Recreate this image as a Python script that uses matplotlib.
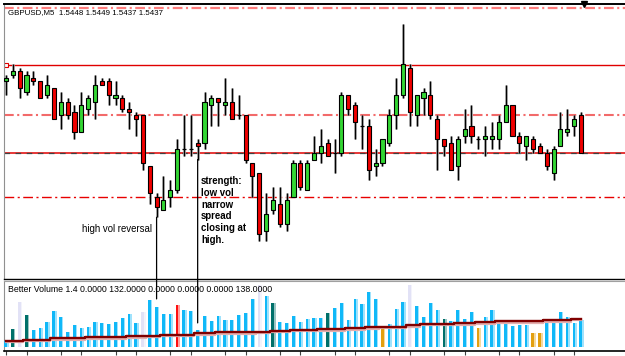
import matplotlib
matplotlib.use("Agg")
import matplotlib.pyplot as plt
import matplotlib.patheffects as pe
from matplotlib.patches import ConnectionPatch
import numpy as np

plt.rcParams['font.family'] = ['Liberation Sans', 'DejaVu Sans']
plt.rcParams['lines.scale_dashes'] = False

symbol = "GBPUSD,M5"

opens = [1.5458, 1.5460, 1.5461, 1.5455, 1.5459, 1.5458, 1.5454, 1.5456, 1.5448, 1.5452,
         1.5449, 1.5443, 1.5450, 1.5452, 1.5458, 1.5458, 1.5453, 1.5453, 1.5450, 1.5448,
         1.5448, 1.5433, 1.5424, 1.5420, 1.5424, 1.5426, 1.5438, 1.5438, 1.5440, 1.5440,
         1.5451, 1.5453, 1.5451, 1.5452, 1.5448, 1.5448, 1.5434, 1.5431, 1.5414, 1.5420,
         1.5422, 1.5416, 1.5424, 1.5434, 1.5426, 1.5435, 1.5437, 1.5440, 1.5437, 1.5437,
         1.5454, 1.5451, 1.5445, 1.5445, 1.5433, 1.5434, 1.5440, 1.5448, 1.5454, 1.5462,
         1.5448, 1.5453, 1.5454, 1.5447, 1.5441, 1.5440, 1.5433, 1.5442, 1.5445, 1.5441,
         1.5441, 1.5441, 1.5441, 1.5446, 1.5451, 1.5442, 1.5439, 1.5441, 1.5439, 1.5437,
         1.5431, 1.5439, 1.5443, 1.5445, 1.5448]
highs = [1.5460, 1.5463, 1.5462, 1.5461, 1.5461, 1.5458, 1.5460, 1.5456, 1.5455, 1.5453,
         1.5451, 1.5455, 1.5454, 1.5460, 1.5459, 1.5459, 1.5458, 1.5454, 1.5452, 1.5449,
         1.5448, 1.5433, 1.5425, 1.5430, 1.5429, 1.5441, 1.5448, 1.5448, 1.5441, 1.5455,
         1.5454, 1.5453, 1.5459, 1.5456, 1.5454, 1.5448, 1.5434, 1.5431, 1.5425, 1.5427,
         1.5427, 1.5425, 1.5435, 1.5435, 1.5435, 1.5442, 1.5444, 1.5441, 1.5441, 1.5455,
         1.5454, 1.5452, 1.5448, 1.5447, 1.5438, 1.5441, 1.5450, 1.5459, 1.5475, 1.5463,
         1.5454, 1.5456, 1.5458, 1.5448, 1.5441, 1.5442, 1.5442, 1.5450, 1.5451, 1.5442,
         1.5445, 1.5446, 1.5448, 1.5457, 1.5451, 1.5443, 1.5442, 1.5442, 1.5440, 1.5438,
         1.5439, 1.5449, 1.5450, 1.5448, 1.5449]
lows = [1.5454, 1.5459, 1.5453, 1.5454, 1.5457, 1.5453, 1.5453, 1.5447, 1.5444, 1.5447,
        1.5441, 1.5443, 1.5448, 1.5447, 1.5457, 1.5451, 1.5451, 1.5449, 1.5444, 1.5442,
        1.5432, 1.5422, 1.5418, 1.5420, 1.5421, 1.5425, 1.5436, 1.5436, 1.5435, 1.5438,
        1.5445, 1.5445, 1.5448, 1.5447, 1.5447, 1.5434, 1.5424, 1.5411, 1.5411, 1.5419,
        1.5415, 1.5414, 1.5424, 1.5426, 1.5426, 1.5435, 1.5434, 1.5436, 1.5431, 1.5436,
        1.5448, 1.5441, 1.5438, 1.5429, 1.5430, 1.5433, 1.5439, 1.5444, 1.5453, 1.5445,
        1.5445, 1.5448, 1.5447, 1.5432, 1.5436, 1.5432, 1.5429, 1.5440, 1.5440, 1.5438,
        1.5436, 1.5438, 1.5438, 1.5446, 1.5442, 1.5437, 1.5435, 1.5437, 1.5437, 1.5432,
        1.5429, 1.5439, 1.5442, 1.5442, 1.5437]
closes = [1.5459, 1.5461, 1.5456, 1.5460, 1.5458, 1.5453, 1.5457, 1.5447, 1.5452, 1.5448,
          1.5443, 1.5451, 1.5453, 1.5457, 1.5457, 1.5454, 1.5454, 1.5450, 1.5449, 1.5447,
          1.5434, 1.5425, 1.5421, 1.5423, 1.5426, 1.5438, 1.5438, 1.5438, 1.5439, 1.5452,
          1.5453, 1.5452, 1.5452, 1.5447, 1.5448, 1.5435, 1.5430, 1.5413, 1.5419, 1.5423,
          1.5416, 1.5423, 1.5434, 1.5427, 1.5434, 1.5437, 1.5439, 1.5436, 1.5437, 1.5454,
          1.5450, 1.5446, 1.5445, 1.5432, 1.5434, 1.5441, 1.5448, 1.5454, 1.5463, 1.5449,
          1.5454, 1.5455, 1.5448, 1.5441, 1.5439, 1.5432, 1.5441, 1.5444, 1.5442, 1.5441,
          1.5442, 1.5442, 1.5446, 1.5451, 1.5442, 1.5440, 1.5442, 1.5438, 1.5437, 1.5433,
          1.5438, 1.5444, 1.5444, 1.5447, 1.5437]

volumes = [30, 87, 220, 156, 84, 93, 124, 176, 145, 75,
           108, 92, 100, 124, 116, 113, 124, 143, 160, 119,
           171, 229, 196, 162, 162, 205, 179, 174, 84, 153,
           127, 153, 132, 132, 156, 166, 232, 301, 248, 214,
           124, 116, 153, 124, 137, 140, 140, 166, 191, 214,
           132, 235, 211, 266, 235, 97, 114, 185, 219, 301,
           200, 145, 214, 180, 137, 126, 179, 137, 171, 93,
           148, 179, 116, 114, 103, 108, 108, 71, 71, 124,
           119, 171, 148, 116, 132]
volume_ma = [32, 32, 32, 37, 37, 37, 37, 44, 44, 44,
             44, 44, 48, 48, 48, 48, 48, 48, 53, 53,
             53, 56, 56, 61, 61, 61, 61, 61, 68, 68,
             68, 73, 73, 73, 73, 73, 73, 75, 75, 80,
             80, 80, 85, 85, 85, 85, 88, 88, 88, 88,
             93, 93, 93, 97, 97, 100, 100, 100, 100, 106,
             106, 113, 113, 113, 113, 113, 117, 117, 117, 122,
             122, 122, 126, 126, 126, 126, 126, 126, 126, 131,
             131, 131, 131, 138, 138]
# Better Volume bar classes (0-based bar indices)
churn_bars = [1, 3, 39, 47, 64]          # dark teal
climax_low_bars = [2, 20, 37, 59]        # lavender
climax_high_bars = [25]                  # red
low_volume_bars = [55, 69, 77, 78]       # orange

levels_dashdot_light = [1.54795, 1.54481]
level_solid = 1.54627
level_close = 1.5437
level_dashdot = 1.54239

tick_bars = [0, 3, 8, 11, 16, 19, 24, 27, 32, 35, 40, 43, 48, 51, 56, 59,
             64, 67, 72, 75, 80, 83]

annot_reversal_bar = 22
annot_strength_bar = 28
text_reversal = "high vol reversal"
text_strength = "strength:\nlow vol\nnarrow\nspread\nclosing at\nhigh."

W, H = 625, 356
fig = plt.figure(figsize=(W / 100, H / 100), dpi=100)
fig.patch.set_facecolor('white')

def fx(px):
    return px / W

def fy(py):
    return 1 - py / H

ax = fig.add_axes([fx(4), fy(279), fx(625) - fx(4), fy(4) - fy(279)])
axv = fig.add_axes([fx(4), fy(351), fx(625) - fx(4), fy(281) - fy(351)])

step = 6.845
x0 = -(6 - 4) / step
x1 = x0 + 621 / step
for a in (ax, axv):
    a.set_xlim(x0, x1)
    a.set_facecolor('white')
    a.spines['right'].set_visible(False)
    a.spines['left'].set_color('#909090')
    a.set_yticks([])
ax.set_ylim(1.539985, 1.548074)
axv.set_ylim(-17.9, 320.6)
ax.set_xticks([])
ax.spines['top'].set_color('black')
ax.spines['top'].set_linewidth(1.4)
ax.spines['bottom'].set_color('black')
ax.spines['bottom'].set_linewidth(1.0)
axv.spines['top'].set_color('#a0a0a0')
axv.spines['bottom'].set_color('black')
axv.spines['bottom'].set_linewidth(1.2)
axv.set_xticks(tick_bars)
axv.tick_params(axis='x', direction='out', length=3, width=0.8, color='#404040',
                labelbottom=False)

o = np.array(opens); h = np.array(highs); l = np.array(lows); c = np.array(closes)
x = np.arange(len(o))

# horizontal levels
dashdot = (0, (7, 2.5, 1.5, 2.5))
ax.axhline(levels_dashdot_light[0], color='#FF7B7B', lw=1.6, ls=dashdot, zorder=1)
ax.axhline(levels_dashdot_light[1], color='#F26a6a', lw=1.5, ls=dashdot, zorder=1)
ax.axhline(level_solid, color='#E00000', lw=1.0, zorder=1)
ax.plot([x[0]], [level_solid], marker='s', ms=3.2, mfc='white', mec='#E00000', mew=0.8,
        zorder=2)
ax.axhline(level_close, color='#E00000', lw=1.1, zorder=1)
ax.axhline(level_close, color='#404040', lw=0.9, ls=(0, (4, 4)), zorder=1)
ax.axhline(level_dashdot, color='#E80000', lw=1.0, ls=dashdot, zorder=1)

# candles
shadow = [pe.Stroke(linewidth=1.9, foreground='#a8a8a8'), pe.Normal()]
ax.vlines(x, l, h, color='black', lw=0.9, zorder=3, path_effects=shadow)
bw = 0.6
up = c > o
dn = c < o
eq = c == o
ax.bar(x[up], (c - o)[up], bottom=o[up], width=bw, color='#33D633', edgecolor='black',
       lw=0.8, zorder=4)
ax.bar(x[dn], (c - o)[dn], bottom=o[dn], width=bw, color='#F00000', edgecolor='black',
       lw=0.8, zorder=4)
ax.hlines(o[eq], x[eq] - bw / 2, x[eq] + bw / 2, color='black', lw=0.9, zorder=4)

# volume bars
cols = ['#10B8F8'] * len(volumes)
for i in churn_bars:
    cols[i] = '#00706A'
for i in climax_low_bars:
    cols[i] = '#E2E2F6'
for i in climax_high_bars:
    cols[i] = '#FF1010'
for i in low_volume_bars:
    cols[i] = '#E3A010'
v = np.array(volumes)
axv.bar(x + 0.1, v, width=0.56, color=cols, alpha=0.4, zorder=2, lw=0)
axv.bar(x - 0.03, v, width=0.40, color=cols, zorder=3, lw=0)
axv.plot(x, volume_ma, drawstyle='steps-mid', color='#800000', lw=1.7, zorder=5,
         path_effects=[pe.Stroke(offset=(0, -1.1), linewidth=1.6, foreground='#E4B0B0'),
                       pe.Normal()])

# annotation lines joining candles to volume bars
for b, gap in ((annot_reversal_bar, 38), (annot_strength_bar, 34)):
    cp = ConnectionPatch(xyA=(b, lows[b]), coordsA=ax.transData,
                         xyB=(b, volumes[b] + gap), coordsB=axv.transData,
                         color='black', lw=0.9, zorder=6)
    fig.add_artist(cp)

ax.text(annot_reversal_bar - 0.67, 1.54146, text_reversal, ha='right', va='center',
        fontsize=6.9, color='black', zorder=6)
ax.text(annot_strength_bar + 0.5, 1.54301, text_strength, ha='left', va='top',
        fontsize=6.9, fontweight='bold', color='black', linespacing=1.22, zorder=6)

title = f"{symbol}  {opens[-1]:.4f} {highs[-1]:.4f} {lows[-1]:.4f} {closes[-1]:.4f}"
fig.text(fx(8), fy(12.3), title, fontsize=5.7, ha='left', va='center', color='black')
vol_label = ("Better Volume 1.4 0.0000 " + f"{volumes[-1]:.4f}" + " 0.0000 0.0000 0.0000 "
             + f"{volume_ma[-1]:.4f}")
fig.text(fx(8), fy(290), vol_label, fontsize=6.3, ha='left', va='center', color='black')

# chart-shift marker
ax.plot([0.934], [1.0], marker='v', ms=4, color='black', transform=ax.transAxes,
        clip_on=False, zorder=7)

fig.savefig('out.png', dpi=100, facecolor='white')
